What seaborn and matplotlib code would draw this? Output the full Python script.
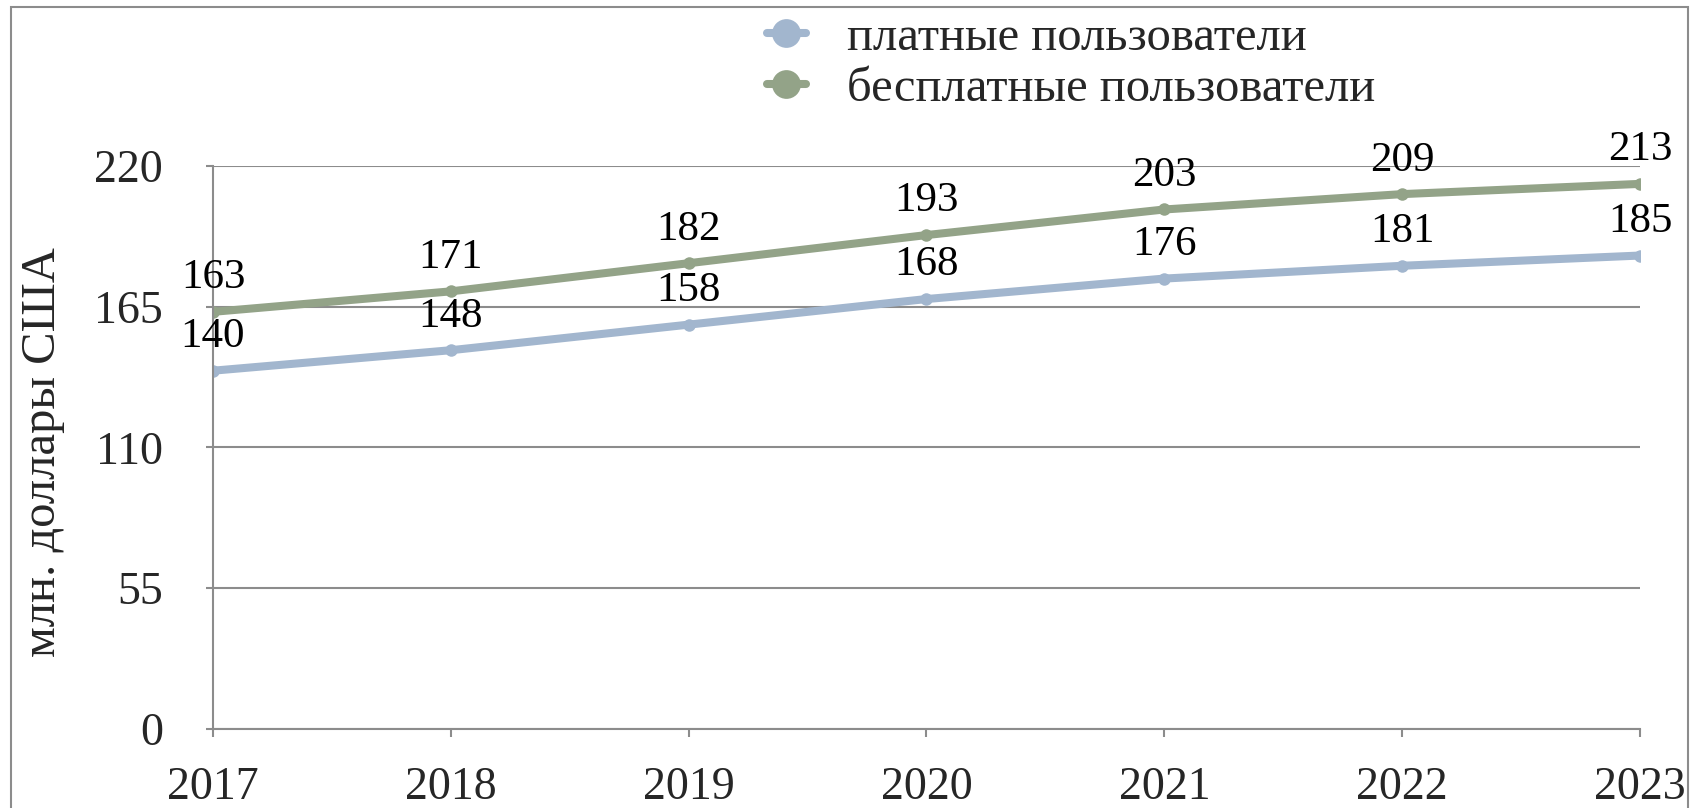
import numpy as np
import pandas as pd
import seaborn as sns
import matplotlib
matplotlib.use("Agg")
import matplotlib.pyplot as plt
from matplotlib.patches import Rectangle

# данные
years = [2017, 2018, 2019, 2020, 2021, 2022, 2023]
paid = [140, 148, 158, 168, 176, 181, 185]
free = [163, 171, 182, 193, 203, 209, 213]
series_names = ["платные пользователи", "бесплатные пользователи"]
y_ticks = [0, 55, 110, 165, 220]
y_label = "млн. доллары США"

colors = {"платные пользователи": "#A2B6CE", "бесплатные пользователи": "#93A388"}
grey = "#8c8c8c"

sns.set_style("white")
plt.rcParams["font.family"] = ["Liberation Serif", "DejaVu Serif"]

df = pd.DataFrame({
    "year": years * 2,
    "value": paid + free,
    "series": [series_names[0]] * len(years) + [series_names[1]] * len(years),
})

fig = plt.figure(figsize=(16.93, 8.08), dpi=100)
ax = fig.add_axes([0.1258, 0.0978, 0.8429, 0.6968])

sns.lineplot(data=df, x="year", y="value", hue="series", hue_order=series_names,
             palette=colors, marker="o", markersize=9, markeredgewidth=0,
             linewidth=5.8, ax=ax)

# подписи значений
for vals in (paid, free):
    for x, v in zip(years, vals):
        ax.annotate(str(v), (x, v), xytext=(0, 17), textcoords="offset points",
                    ha="center", va="baseline", fontsize=31, color="black")

ax.set_xlim(years[0], years[-1])
ax.set_ylim(0, 220)
ax.set_xticks(years)
ax.set_xticklabels([str(y) for y in years])
ax.set_yticks(y_ticks)
ax.set_xlabel("")
ax.set_ylabel("")

ax.grid(axis="y", color=grey, linewidth=1.5)
ax.grid(axis="x", visible=False)
for side in ["top", "right"]:
    ax.spines[side].set_visible(False)
for side in ["left", "bottom"]:
    ax.spines[side].set_color(grey)
    ax.spines[side].set_linewidth(1.5)

ax.tick_params(axis="y", direction="out", length=5, width=1.5, color=grey,
               pad=31, labelsize=33, left=True)
ax.tick_params(axis="x", direction="out", length=6, width=1.5, color=grey,
               pad=21, labelsize=33, bottom=True)

fig.text(43 / 1693, 1 - 452 / 808, y_label, rotation=90, ha="center", va="center",
         fontsize=35)

handles, labels = ax.get_legend_handles_labels()
leg = ax.legend(handles, labels, loc="upper left",
                bbox_to_anchor=(767 / 1693, 1 - 16 / 808),
                bbox_transform=fig.transFigure, frameon=False, fontsize=35,
                handlelength=0.8, handletextpad=0.85, labelspacing=0.15,
                borderpad=0, borderaxespad=0, markerscale=2.3)

# рамка вокруг диаграммы
fig.patches.append(Rectangle((11 / 1693, -0.05), (1688 - 11) / 1693, 1.05 - 7 / 808,
                             transform=fig.transFigure, fill=False,
                             edgecolor=grey, linewidth=1.5))

fig.savefig("out.png", dpi=100)
